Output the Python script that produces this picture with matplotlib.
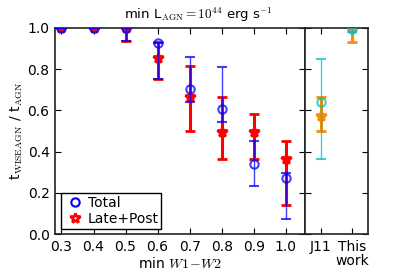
import matplotlib
matplotlib.use("Agg")
import matplotlib.pyplot as plt
from matplotlib.lines import Line2D
import numpy as np

plt.rcParams['mathtext.fontset'] = 'cm'
plt.rcParams['font.size'] = 10

# data
w12 = [0.3, 0.4, 0.5, 0.6, 0.7, 0.8, 0.9, 1.0]
total = [1.0, 1.0, 1.0, 0.929, 0.704, 0.607, 0.341, 0.273]
total_lo = [1.0, 1.0, 0.937, 0.751, 0.642, 0.545, 0.231, 0.072]
total_hi = [1.0, 1.0, 1.0, 0.929, 0.858, 0.812, 0.453, 0.296]
late = [1.0, 1.0, 1.0, 0.855, 0.664, 0.497, 0.497, 0.362]
late_lo = [1.0, 1.0, 0.937, 0.751, 0.50, 0.364, 0.364, 0.142]
late_hi = [1.0, 1.0, 1.0, 0.93, 0.816, 0.667, 0.583, 0.453]

comp_labels = ['J11', 'This\nwork']
comp_total = [0.639, 0.995]
comp_total_lo = [0.362, 0.98]
comp_total_hi = [0.851, 1.0]
comp_late = [0.573, 1.0]
comp_late_lo = [0.50, 0.934]
comp_late_hi = [0.667, 1.0]

fig = plt.figure(figsize=(3.99, 2.79), dpi=100)
L, R, B, T = 0.138, 0.922, 0.161, 0.90
split = 305 / 399
ax = fig.add_axes([L, B, split - L, T - B])
ax2 = fig.add_axes([split, B, R - split, T - B])

def errs(v, lo, hi):
    v = np.array(v); return [v - np.array(lo), np.array(hi) - v]

ax.errorbar(w12, late, yerr=errs(late, late_lo, late_hi), fmt='*', color='r',
            mec='r', mfc='none', mew=2, ms=7.5, elinewidth=2.2, capsize=3.8, capthick=2.2, zorder=2)
ax.errorbar(w12, total, yerr=errs(total, total_lo, total_hi), fmt='o', color='b',
            mec='b', mfc='none', mew=1.5, ms=6, elinewidth=1, capsize=3.8, capthick=1,
            alpha=0.75, zorder=3)

xc = [1, 2]
ax2.errorbar(xc, comp_late, yerr=errs(comp_late, comp_late_lo, comp_late_hi), fmt='*',
             color='darkorange', mec='darkorange', mfc='none', mew=2, ms=7.5,
             elinewidth=2.2, capsize=3.8, capthick=2.2, zorder=2)
ax2.errorbar(xc, comp_total, yerr=errs(comp_total, comp_total_lo, comp_total_hi), fmt='o',
             color='c', mec='c', mfc='none', mew=1.5, ms=6, elinewidth=1, capsize=3.8,
             capthick=1, alpha=0.75, zorder=3)

ax.set_xlim(0.28, 1.06)
ax.set_ylim(0, 1)
ax.set_xticks(w12)
ax.set_xticklabels(['%.1f' % v for v in w12])
ax.set_yticks(np.arange(0, 1.01, 0.2))
ax.set_yticklabels(['%.1f' % v for v in np.arange(0, 1.01, 0.2)])
ax.set_xlabel(r'min $W1\!-\!W2$', labelpad=2)
ax.set_ylabel(r't$_\mathrm{WISEAGN}$ / t$_\mathrm{AGN}$', labelpad=2)

ax2.set_xlim(0.5, 2.5)
ax2.set_ylim(0, 1)
ax2.set_xticks(xc)
ax2.set_xticklabels(comp_labels, linespacing=1.0)
ax2.set_yticks(np.arange(0, 1.01, 0.2))
ax2.set_yticklabels([])

for a in (ax, ax2):
    a.tick_params(direction='in', top=True, right=True, length=4, width=0.8,
                  labelsize=10, pad=4)
    for s in a.spines.values():
        s.set_linewidth(1.2)
        s.set_color('#222222')

fig.text(0.497, 0.948, r'min L$_\mathrm{AGN}=10^{44}$ erg s$^{-1}$', ha='center',
         va='center', fontsize=9.5)

handles = [Line2D([], [], ls='none', marker='o', mfc='none', mec='b', mew=1.5, ms=6),
           Line2D([], [], ls='none', marker='*', mfc='none', mec='r', mew=2, ms=7.5)]
leg = ax.legend(handles, ['Total', 'Late+Post'], loc='lower left', numpoints=1,
                fancybox=False, framealpha=1, edgecolor='black', fontsize=10,
                bbox_to_anchor=(0.025, 0.025), borderaxespad=0.0,
                handletextpad=0.2, labelspacing=0.15,
                borderpad=0.2, handlelength=1.5)
leg.get_frame().set_linewidth(1.0)

fig.savefig('out.png', dpi=100)
